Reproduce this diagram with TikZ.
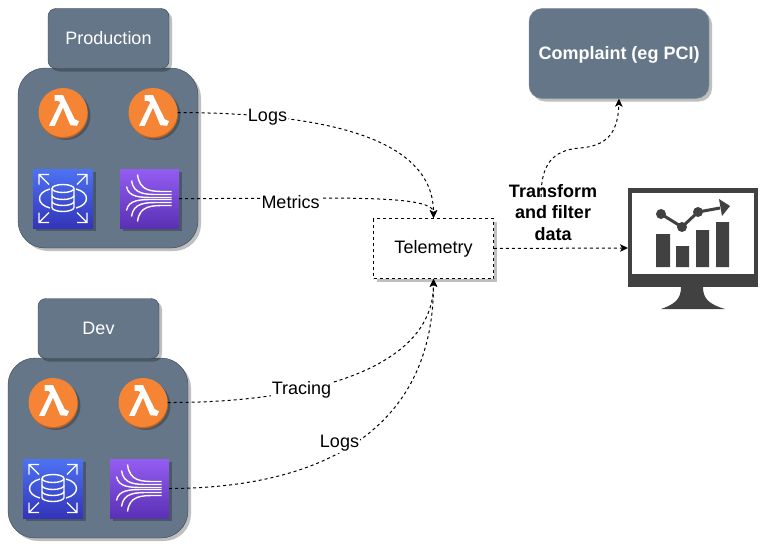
\documentclass[tikz,border=0pt]{standalone}
\usepackage{fontspec}
\setmainfont{Liberation Sans}
\usetikzlibrary{arrows.meta,shadows}
\definecolor{slate}{HTML}{647687}
\definecolor{slateline}{HTML}{314354}
\definecolor{lamorange}{HTML}{F58534}
\definecolor{lamdark}{HTML}{C4641F}
\definecolor{rdstop}{HTML}{4D72F3}
\definecolor{rdsbot}{HTML}{3334B9}
\definecolor{kintop}{HTML}{945DF2}
\definecolor{kinbot}{HTML}{5A30B5}
\definecolor{monitor}{HTML}{414141}
\tikzset{
  softshadow/.style={drop shadow={shadow xshift=3pt,shadow yshift=-3pt,opacity=.25,fill=black}},
  tile/.style={draw=slateline,fill=slate,text=white,rounded corners=8pt,softshadow,font=\fontsize{18}{21}\selectfont,minimum width=121pt,minimum height=60pt,inner sep=0pt},
  stack/.style={draw=slateline,fill=slate,rounded corners=27pt,softshadow,minimum width=180pt,minimum height=180pt,inner sep=0pt},
  lam/.style={circle,fill=lamorange,softshadow,drop shadow={shadow xshift=.5pt,shadow yshift=-1.5pt,opacity=1,fill=lamdark},minimum size=49pt,inner sep=0pt},
  rds/.style={rectangle,top color=rdstop,bottom color=rdsbot,softshadow,minimum width=60pt,minimum height=59pt,inner sep=0pt},
  kin/.style={rectangle,top color=kintop,bottom color=kinbot,softshadow,minimum width=59pt,minimum height=59pt,inner sep=0pt},
  flow/.style={dash pattern=on 3pt off 3pt,line width=1pt,->,>={Stealth[length=8pt,width=7.5pt,inset=2pt]}},
  tag/.style={fill=white,inner sep=1pt,font=\fontsize{18}{21}\selectfont},
  glyphline/.style={white,line width=1.4pt},
  lamglyph/.pic={
    \fill[white] (-8.3,-17.3)--(0,-17.3)--(11.7,6.7)--(16,8.7)--(14,13.3)--(7.3,12.7)--(0,-5)--(-8.3,13.3)--(-14,13.3)--(-2.7,-10)--(-4.7,-11.7)--(-8.3,-11.7)--cycle;
  },
  rdsglyph/.pic={
    \draw[glyphline] (0,-10) ellipse(11 and 4);
    \draw[glyphline] (-11,-10)--(-11,9) arc(180:0:11 and 4)--(11,-10);
    \draw[glyphline] (-11,-3) arc(180:0:11 and 4) (-11,3) arc(180:0:11 and 4);
    \draw[glyphline] (-13,-9.5) .. controls (-27,-6) and (-27,6) .. (-13,9.5);
    \draw[glyphline] (13,-9.5) .. controls (27,-6) and (27,6) .. (13,9.5);
    \foreach \sx/\sy in {1/1,-1/1,1/-1,-1/-1}
      \draw[glyphline] (\sx*14,\sy*14)--(\sx*24,\sy*24) (\sx*24,\sy*14)--(\sx*24,\sy*24)--(\sx*14,\sy*24);
  },
  kinglyph/.pic={
    \foreach \xa/\ya/\yb in {-12/-24/-7,-18/-18/-4,-23/-12/-1,-23/12/1,-18/18/4,-12/23/7}
      \draw[glyphline] (\xa,\ya) .. controls (\xa+2,\yb) and (\xa+14,\yb) .. (\xa+28,\yb) -- (22,\yb);
  }
}
\begin{document}
\begin{tikzpicture}[x=1pt,y=-1pt]
\useasboundingbox (0,0) rectangle (767,551);

% production account
\node[stack] (prodbox) at (108,158) {};
\node[tile] (prod) at (108.5,38.5) {Production};
\node[lam] (prodlama) at (63,112.5) {};
\node[lam] (prodlamb) at (153,112.5) {};
\node[rds] (prodrds) at (63,198.5) {};
\node[kin] (prodkin) at (149.5,198.5) {};

% dev account
\node[stack] (devbox) at (98,448) {};
\node[tile] (dev) at (98.5,328.5) {Dev};
\node[lam] (devlama) at (53,402.5) {};
\node[lam] (devlamb) at (143,402.5) {};
\node[rds] (devrds) at (53,488.5) {};
\node[kin] (devkin) at (139.5,488.5) {};

\foreach \icon in {prodlama,prodlamb,devlama,devlamb} \pic at (\icon) {lamglyph};
\foreach \icon in {prodrds,devrds} \pic at (\icon) {rdsglyph};
\foreach \icon in {prodkin,devkin} \pic at (\icon) {kinglyph};

\node[draw,fill=white,dash pattern=on 3pt off 3pt,line width=.8pt,softshadow,minimum width=120pt,minimum height=60pt,inner sep=0pt,font=\fontsize{18}{21}\selectfont] (telemetry) at (433.5,248.5) {Telemetry};
\node[draw=slateline!60,fill=slate,text=white,rounded corners=13pt,softshadow,minimum width=180pt,minimum height=90pt,inner sep=0pt,text depth=2pt,font=\bfseries\fontsize{18}{21}\selectfont] (complaint) at (619,53.5) {Complaint (eg PCI)};

% monitor
\fill[monitor] (628,188) rectangle (758,287);
\fill[white] (632,193) rectangle (754,274);
\fill[monitor] (681,287) .. controls (681,298) and (676,304) .. (661,309) -- (725,309) .. controls (708,304) and (703,298) .. (703,287) -- cycle;
\fill[monitor] (656,234) rectangle (670,267) (676,246) rectangle (689,267) (696,230) rectangle (709,267) (716,222) rectangle (729,267);
\draw[monitor,line width=3pt] (661,214)--(682,227)--(698,212)--(720,208);
\fill[monitor] (661,214) circle(5) (682,227) circle(5) (698,212) circle(5);
\fill[monitor] (719,199)--(730,206)--(722,216)--cycle;
\coordinate (monitorin) at (628,248);

% connectors
\draw[flow] (prodlamb.east) .. controls (300,113) and (433.5,130) .. (telemetry.north);
\draw[flow] (prodkin.east) .. controls (320,199) and (433.5,193) .. (telemetry.north);
\draw[flow] (devlamb.east) .. controls (300,403) and (433.5,372) .. (telemetry.south);
\draw[flow] (devkin.east) .. controls (325,488) and (433.5,428) .. (telemetry.south);
\draw[flow] (telemetry.east) -- (monitorin);
\coordinate (transformout) at (541,197);
\draw[flow] (transformout) .. controls (541,165) and (552,150) .. (580,148) .. controls (605,146) and (618,135) .. (complaint.south);

\node[tag] (logsa) at (267.5,117) {Logs};
\node[tag] (metrics) at (290.5,202.5) {Metrics};
\node[tag] (tracing) at (301.5,389.5) {Tracing};
\node[tag] (logsb) at (339.5,443.5) {Logs};
\node[align=center,inner sep=0pt,font=\bfseries\fontsize{18}{21.5}\selectfont] (transform) at (553,212.5) {Transform\\and filter\\data};
\end{tikzpicture}
\end{document}
